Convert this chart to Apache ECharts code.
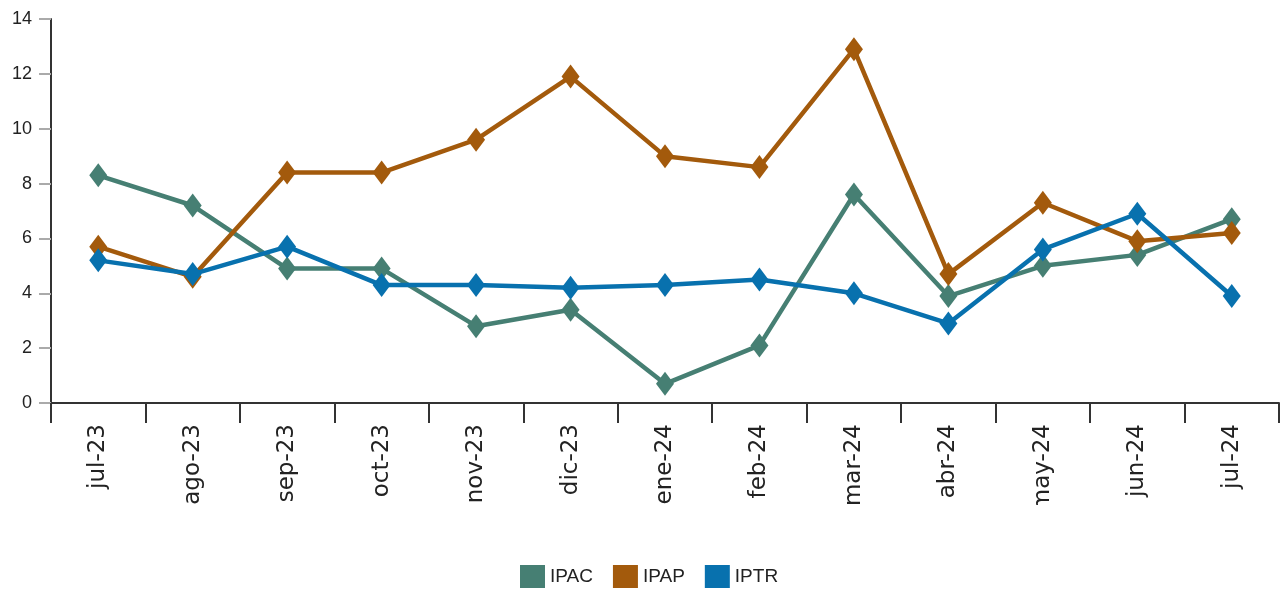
<!DOCTYPE html>
<html>
<head>
<meta charset="utf-8">
<script src="https://cdn.jsdelivr.net/npm/echarts@6/dist/echarts.min.js"></script>
<style>
html,body{margin:0;padding:0;background:#fff;}
#chart{width:1283px;height:589px;}
</style>
</head>
<body>
<div id="chart"></div>
<script>
const categories = ['jul-23','ago-23','sep-23','oct-23','nov-23','dic-23','ene-24','feb-24','mar-24','abr-24','may-24','jun-24','jul-24'];
const ipac = [8.3, 7.2, 4.9, 4.9, 2.8, 3.4, 0.7, 2.1, 7.6, 3.9, 5.0, 5.4, 6.7];
const ipap = [5.7, 4.6, 8.4, 8.4, 9.6, 11.9, 9.0, 8.6, 12.9, 4.7, 7.3, 5.9, 6.2];
const iptr = [5.2, 4.7, 5.7, 4.3, 4.3, 4.2, 4.3, 4.5, 4.0, 2.9, 5.6, 6.9, 3.9];
const yTicks = [0, 2, 4, 6, 8, 10, 12, 14];

const colors = {IPAC: '#467f73', IPAP: '#a35a0c', IPTR: '#0871ae'};

function mk(name, data) {
  return {
    name: name,
    type: 'line',
    data: data,
    symbol: 'diamond',
    symbolSize: [18, 24],
    lineStyle: {width: 4.5, color: colors[name]},
    itemStyle: {color: colors[name]},
    animation: false
  };
}

const chart = echarts.init(document.getElementById('chart'), null, {renderer: 'canvas'});
chart.setOption({
  animation: false,
  grid: {left: 51, right: 4, top: 19, bottom: 186, containLabel: false},
  legend: {
    top: 565,
    left: 520,
    icon: 'rect',
    itemWidth: 25,
    itemHeight: 23,
    itemGap: 20,
    padding: 0,
    textStyle: {fontFamily: 'Liberation Sans, Arial, sans-serif', fontSize: 19, color: '#222'},
    data: ['IPAC', 'IPAP', 'IPTR']
  },
  xAxis: {
    type: 'category',
    data: categories,
    boundaryGap: true,
    axisLine: {lineStyle: {color: '#333', width: 2}},
    axisTick: {show: true, length: 20, lineStyle: {color: '#333', width: 2}},
    axisLabel: {
      rotate: 90,
      margin: 21,
      interval: 0,
      fontFamily: 'DejaVu Sans, sans-serif',
      fontSize: 23,
      color: '#222'
    },
    splitLine: {show: false}
  },
  yAxis: {
    type: 'value',
    min: yTicks[0],
    max: yTicks[yTicks.length - 1],
    interval: 2,
    axisLine: {show: true, lineStyle: {color: '#333', width: 2}},
    axisTick: {show: true, length: 12, lineStyle: {color: '#aaa', width: 2}},
    axisLabel: {
      margin: 19,
      fontFamily: 'Liberation Sans, Arial, sans-serif',
      fontSize: 18,
      color: '#222'
    },
    splitLine: {show: false}
  },
  graphic: [{
    type: 'rect',
    shape: {x: 52, y: 505, width: 1231, height: 45},
    style: {fill: '#fff'},
    z: 100
  }],
  series: [mk('IPAC', ipac), mk('IPAP', ipap), mk('IPTR', iptr)]
});
</script>
</body>
</html>
